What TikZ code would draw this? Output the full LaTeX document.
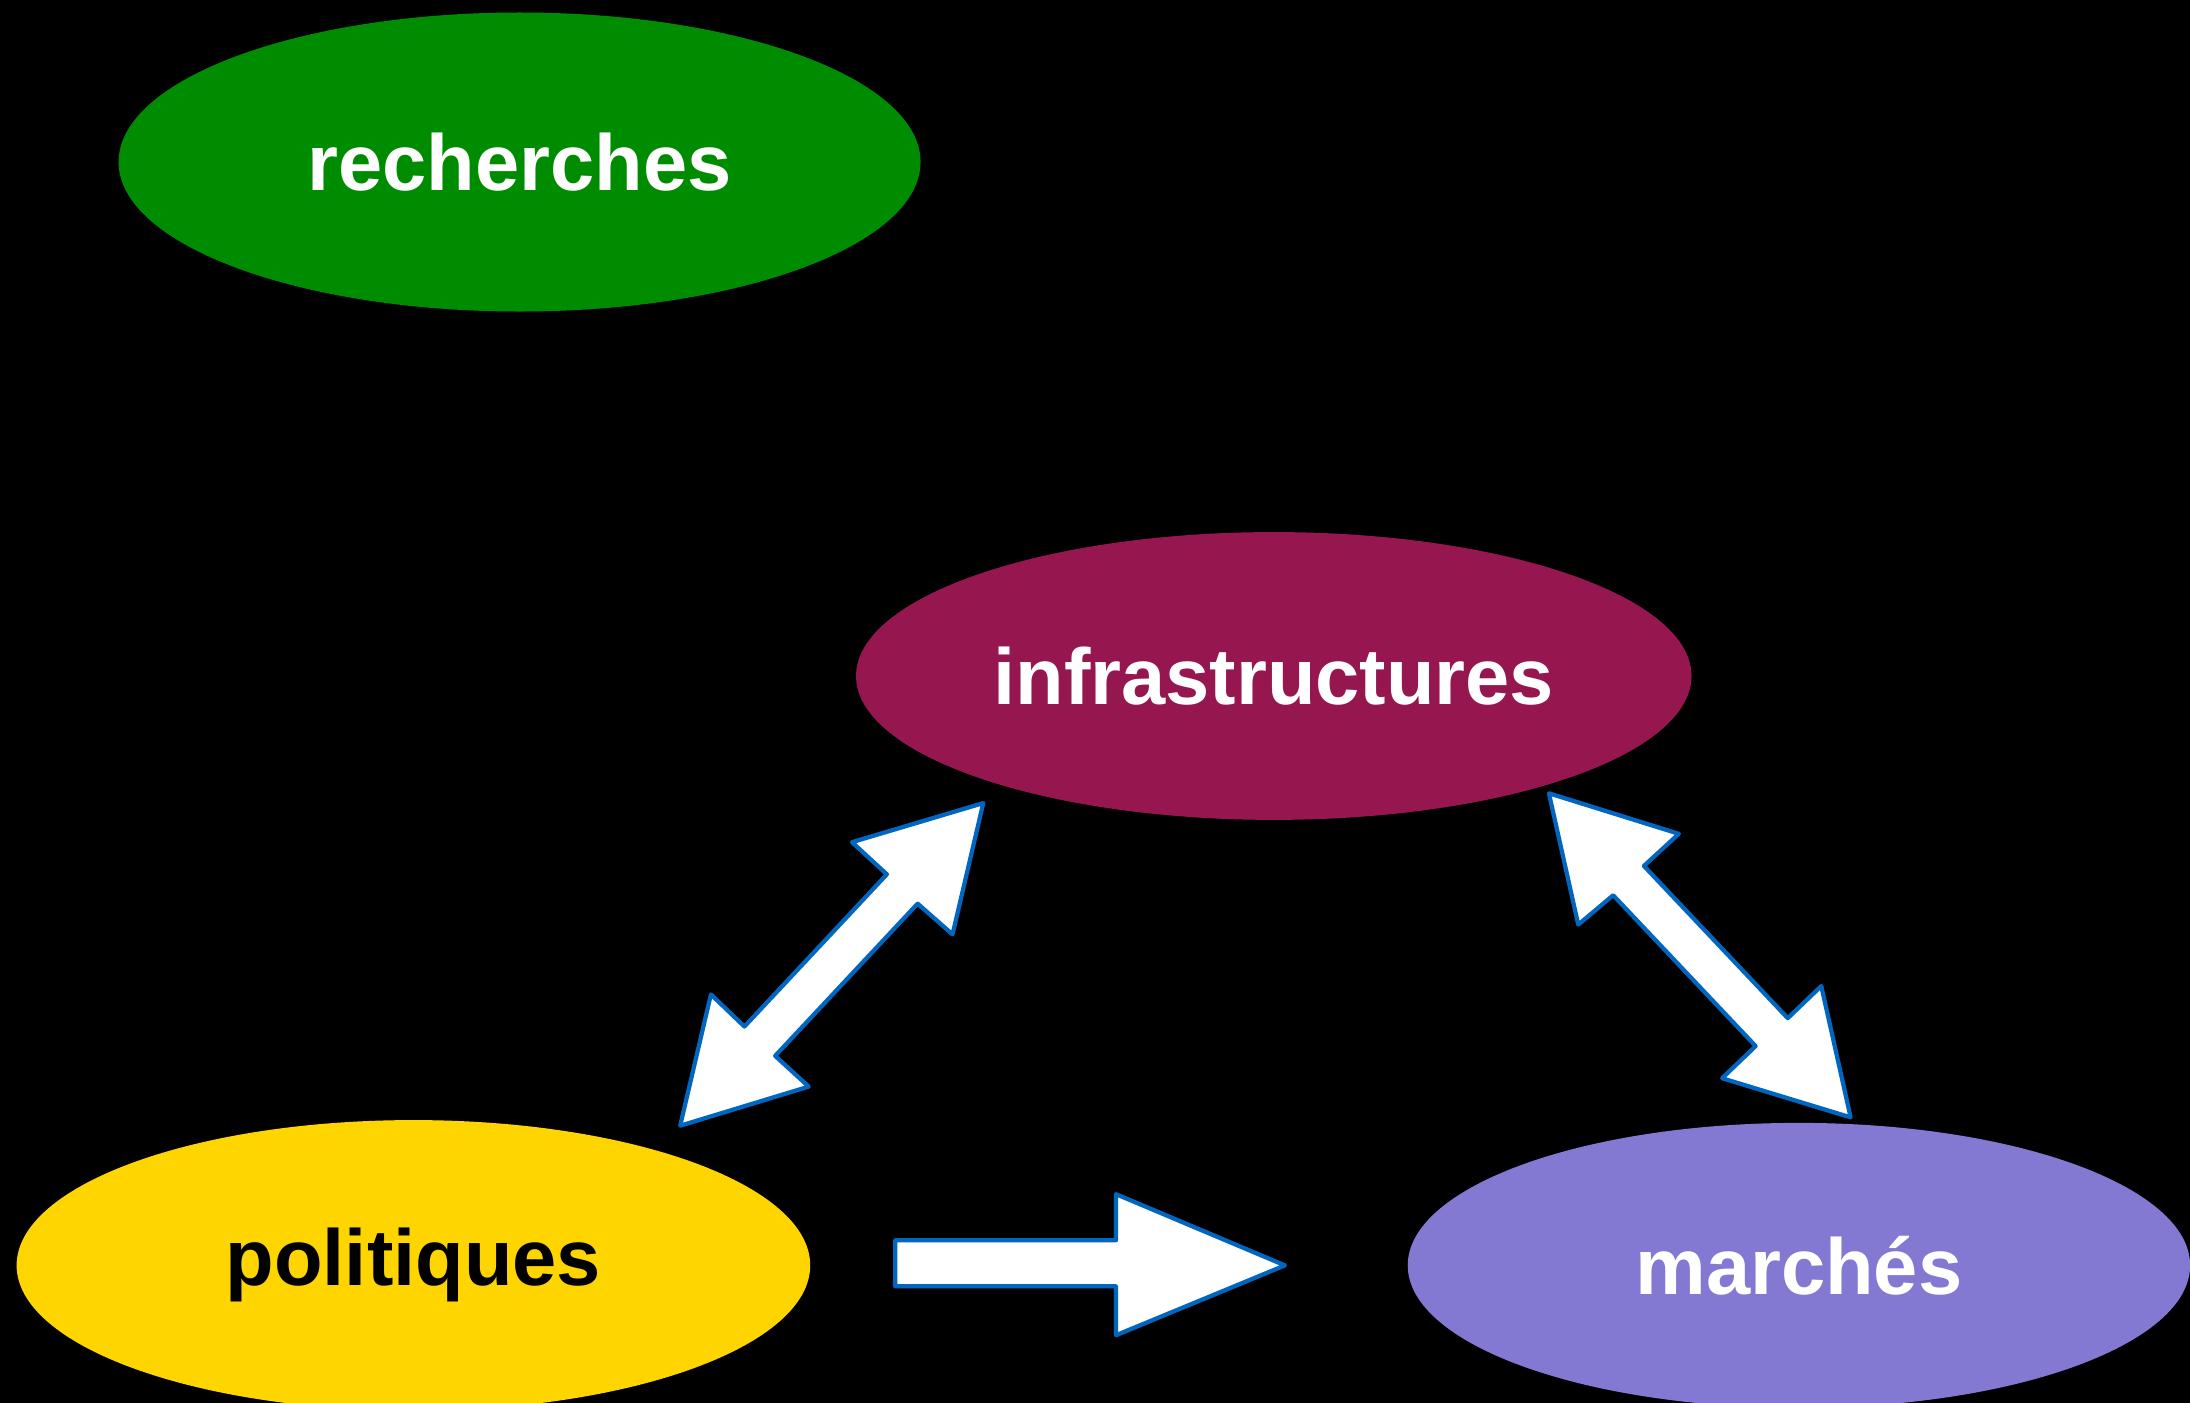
\documentclass[tikz,border=0pt]{standalone}
\usepackage{fontspec}
\setmainfont{Liberation Sans}
\usetikzlibrary{shapes.geometric}
\definecolor{cgreen}{RGB}{0,140,0}
\definecolor{cinfra}{RGB}{150,22,80}
\definecolor{cyellow}{RGB}{255,213,0}
\definecolor{cpurple}{RGB}{131,120,210}
\definecolor{cblue}{RGB}{0,102,192}
\tikzset{
  blob/.style={ellipse, inner sep=0pt, draw=none, font=\fontsize{22.6}{27}\selectfont\bfseries},
  blockarrow/.style={fill=white, draw=cblue, line width=1.2pt, line join=round}
}
\begin{document}
\begin{tikzpicture}[x=0.013967cm,y=-0.013967cm]
\fill[black] (0,0) rectangle (1568,1004.5);
\useasboundingbox (0,0) rectangle (1568,1004.5);
\node[blob, fill=cgreen, text=white, minimum width=8.017cm, minimum height=2.989cm] (rech) at (372,116) {recherches};
\node[blob, fill=cinfra, text=white, minimum width=8.352cm, minimum height=2.877cm] (infra) at (912,484) {infrastructures};
\node[blob, fill=cyellow, text=black, minimum width=7.933cm, minimum height=2.905cm] (pol) at (296,906) {politiques};
\node[blob, fill=cpurple, text=white, minimum width=7.821cm, minimum height=2.849cm] (marc) at (1288,906) {marchés};
% double arrow infrastructures <-> politiques
\draw[blockarrow] (704,575) -- (682,669) -- (657,647) -- (555,756) -- (579,778) -- (487,806)
  -- (509,712) -- (533,735) -- (635,626) -- (610,603) -- cycle;
% double arrow infrastructures <-> marchés
\draw[blockarrow] (1109,568) -- (1202,597) -- (1177,620) -- (1280,729) -- (1304,706) -- (1325,800)
  -- (1233,772) -- (1257,749) -- (1155,641) -- (1130,662) -- cycle;
% arrow politiques -> marchés
\draw[blockarrow] (641,888) -- (799,888) -- (799,855) -- (920,906) -- (799,956) -- (799,921) -- (641,921) -- cycle;
\end{tikzpicture}
\end{document}
